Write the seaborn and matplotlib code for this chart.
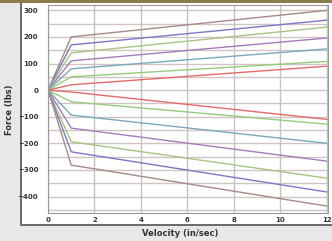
import pandas as pd
import matplotlib
matplotlib.use("Agg")
import matplotlib.pyplot as plt
from matplotlib.patches import Rectangle
import seaborn as sns

# velocity points: origin, knee, end of range
velocity = [0, 1, 12]

# force values at the knee (1 in/sec) and at 12 in/sec, top to bottom
upper_knee = [200, 170, 140, 110, 80, 50, 20]
upper_end = [300, 263, 237, 196, 155, 108, 90]
lower_knee = [-7, -44, -94, -143, -194, -232, -282]
lower_end = [-110, -128, -200, -267, -331, -383, -436]

colors = ["#a88a86", "#7f76c4", "#a6c483", "#a67bbd", "#79a9bb", "#95cc7c", "#e46a6a"]
lower_colors = colors[::-1]

rows = []
for i, (k, e) in enumerate(zip(upper_knee, upper_end)):
    for v, f in zip(velocity, [0, k, e]):
        rows.append({"velocity": v, "force": f, "curve": f"u{i}"})
for i, (k, e) in enumerate(zip(lower_knee, lower_end)):
    for v, f in zip(velocity, [0, k, e]):
        rows.append({"velocity": v, "force": f, "curve": f"l{i}"})
df = pd.DataFrame(rows)

palette = {f"u{i}": c for i, c in enumerate(colors)}
palette.update({f"l{i}": c for i, c in enumerate(lower_colors)})

sns.set_style("white")
fig = plt.figure(figsize=(3.32, 2.41), dpi=100, facecolor="#e8e8e8")

# white panel with dark edge, olive stripe on top
def box(x, y, w, h, c):
    fig.patches.append(Rectangle((x / 332, y / 241), w / 332, h / 241, transform=fig.transFigure,
                                 facecolor=c, edgecolor="none", zorder=-5))

box(20, 15.5, 320, 223, "#6d6d6d")
box(22, 17.5, 320, 221, "white")
box(0, 238, 332, 3, "#8c7c4c")

ax = fig.add_axes([48 / 332, 28 / 241, 280 / 332, 208 / 241])
ax.set_facecolor("white")

for y in range(-450, 301, 50):
    ax.axhline(y, color="#d2c4c4", lw=1.0, zorder=0)
for x in range(0, 13, 2):
    ax.axvline(x, color="#c6c2c2", lw=1.0, zorder=0)

sns.lineplot(data=df, x="velocity", y="force", hue="curve", palette=palette,
             estimator=None, sort=False, lw=1.0, legend=False, ax=ax)

ax.set_xlim(0, 12.05)
ax.set_ylim(-462, 320)
ax.set_xticks(range(0, 13, 2))
ax.set_yticks(range(-400, 301, 100))
ax.tick_params(length=0, labelsize=5, pad=7, colors="#333333")
for lab in ax.get_xticklabels() + ax.get_yticklabels():
    lab.set_fontweight("bold")
ax.tick_params(axis="x", pad=3)
ax.set_xlabel("")
ax.set_ylabel("")
for s in ax.spines.values():
    s.set_color("#9a9a9a")
    s.set_linewidth(0.8)

fig.text(180 / 332, 8 / 241, "Velocity (in/sec)", ha="center", va="center",
         fontsize=6, fontweight="bold", color="#333333")
fig.text(10 / 332, 131 / 241, "Force (lbs)", ha="center", va="center", rotation=90,
         fontsize=6, fontweight="bold", color="#333333")

fig.savefig("out.png", dpi=100, facecolor=fig.get_facecolor())
